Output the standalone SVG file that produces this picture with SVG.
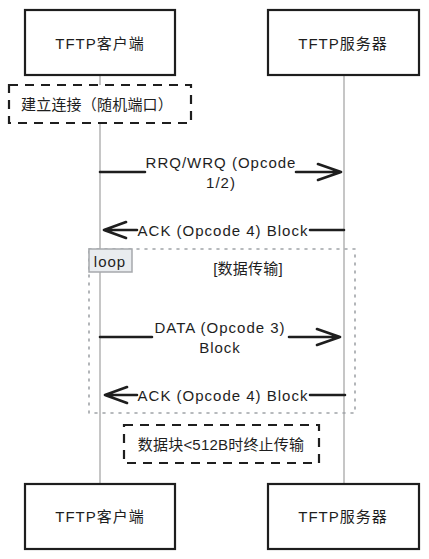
<svg xmlns="http://www.w3.org/2000/svg" width="429" height="559" viewBox="0 0 429 559">
<style>
  .box { fill: #ffffff; stroke: #1e1e1e; stroke-width: 2.2; }
  .lbl { font-family: "Liberation Sans", "Noto Sans CJK SC", sans-serif; font-size: 15px; letter-spacing: 1px; fill: #1e1e1e; text-anchor: middle; dominant-baseline: central; }
  .cjk { letter-spacing: 0.2px; }
  .life { stroke: #a0a0a0; stroke-width: 1.2; fill: none; }
  .msg { stroke: #1e1e1e; stroke-width: 2.6; fill: none; stroke-linecap: round; stroke-linejoin: round; }
  .note { fill: #ffffff; stroke: #1e1e1e; stroke-width: 2.2; stroke-dasharray: 9 7; }
  .loop { fill: none; stroke: #a0a4a8; stroke-width: 1.6; stroke-dasharray: 2 6; stroke-linecap: round; }
  .looptag { fill: #e9ecef; stroke: #a6a9ad; stroke-width: 1.5; }
</style>
<rect width="429" height="559" fill="#ffffff"/>
<g id="lifelines">
  <line class="life" x1="100" y1="75" x2="100" y2="484"/>
  <line class="life" x1="344" y1="75" x2="344" y2="484"/>
</g>
<g id="client-top">
  <rect class="box" x="25" y="10" width="150" height="65"/>
  <text class="lbl" x="100" y="43">TFTP客户端</text>
</g>
<g id="server-top">
  <rect class="box" x="268" y="10" width="151" height="65"/>
  <text class="lbl" x="343" y="43">TFTP服务器</text>
</g>
<g id="note-connect">
  <rect class="note" x="9" y="85" width="182" height="38"/>
  <text class="lbl cjk" x="97" y="104">建立连接（随机端口）</text>
</g>
<g id="loop-frame">
  <rect class="loop" x="89" y="249" width="266" height="164"/>
  <rect class="looptag" x="89" y="249" width="43" height="23"/>
  <text class="lbl" x="110" y="261">loop</text>
  <text class="lbl cjk" x="248" y="268">[数据传输]</text>
</g>
<g id="connectors">
  <path class="msg" d="M100 172 H145 M296 172 H341 M318 164 L341 172 L318 180"/>
  <text class="lbl" x="221" y="162">RRQ/WRQ (Opcode</text>
  <text class="lbl" x="221" y="182">1/2)</text>
  <path class="msg" d="M344 230 H310 M137 230 H104 M126 222 L104 230 L126 238"/>
  <text class="lbl" x="223" y="230">ACK (Opcode 4) Block</text>
  <path class="msg" d="M100 337 H152 M289 337 H340 M317 329 L340 337 L317 345"/>
  <text class="lbl" x="220" y="327">DATA (Opcode 3)</text>
  <text class="lbl" x="220" y="347">Block</text>
  <path class="msg" d="M345 395 H310 M137 395 H105 M127 387 L105 395 L127 403"/>
  <text class="lbl" x="223" y="395">ACK (Opcode 4) Block</text>
</g>
<g id="note-end">
  <rect class="note" x="124" y="425" width="195" height="38"/>
  <text class="lbl cjk" x="221" y="444">数据块&lt;512B时终止传输</text>
</g>
<g id="client-bottom">
  <rect class="box" x="25" y="484" width="150" height="65"/>
  <text class="lbl" x="100" y="516">TFTP客户端</text>
</g>
<g id="server-bottom">
  <rect class="box" x="268" y="484" width="151" height="65"/>
  <text class="lbl" x="343" y="516">TFTP服务器</text>
</g>
</svg>
